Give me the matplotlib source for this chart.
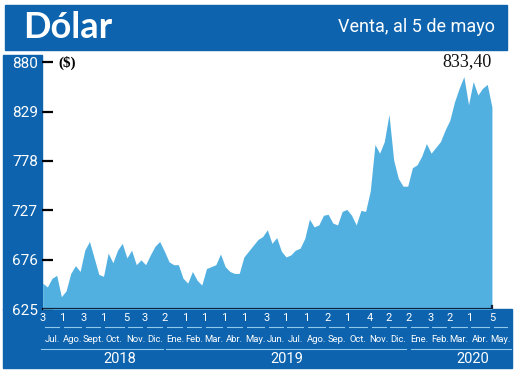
import numpy as np
import matplotlib
matplotlib.use("Agg")
import matplotlib.pyplot as plt
from matplotlib.patches import Rectangle

# weekly readings (Tuesdays) of the dollar sell price, CLP
values = [652, 648, 657, 660, 638, 644, 662, 670, 664, 686,
          695, 678, 661, 659, 683, 673, 686, 693, 678, 686,
          671, 676, 671, 681, 690, 695, 685, 674, 671, 671,
          657, 652, 664, 655, 650, 667, 669, 671, 682, 669,
          664, 662, 662, 679, 685, 691, 697, 700, 707, 693,
          699, 685, 679, 681, 686, 688, 698, 718, 710, 712,
          722, 723, 714, 712, 726, 728, 722, 712, 727, 726,
          747, 795, 786, 798, 826, 779, 760, 752, 752, 771,
          774, 783, 796, 786, 792, 798, 810, 820, 839, 853,
          865, 836, 860, 846, 853, 857, 833.4]
dates = np.arange('2018-07-03', '2020-05-06', 7, dtype='datetime64[D]')

yticks = [625, 676, 727, 778, 829, 880]

tick_dates = ['2018-07-03', '2018-08-01', '2018-09-03', '2018-10-01', '2018-11-05',
              '2018-12-03', '2019-01-02', '2019-02-01', '2019-03-01', '2019-04-01',
              '2019-05-01', '2019-06-03', '2019-07-01', '2019-08-01', '2019-09-02',
              '2019-10-01', '2019-11-04', '2019-12-02', '2020-01-02', '2020-02-03',
              '2020-03-02', '2020-04-01', '2020-05-05', '2020-06-01']
day_labels = ['3', '1', '3', '1', '5', '3', '2', '1', '1', '1', '1', '3',
              '1', '1', '2', '1', '4', '2', '2', '3', '2', '1', '5']
month_labels = ['Jul.', 'Ago.', 'Sept.', 'Oct.', 'Nov.', 'Dic.',
                'Ene.', 'Feb.', 'Mar.', 'Abr.', 'May.', 'Jun.', 'Jul.', 'Ago.', 'Sep.',
                'Oct.', 'Nov.', 'Dic.', 'Ene.', 'Feb.', 'Mar.', 'Abr.', 'May.']
years = ['2018', '2019', '2020']
year_spans = [('2018-07-01', '2018-12-30'), ('2019-01-04', '2019-12-28'), ('2020-01-05', '2020-06-03')]
year_label_pos = ['2018-10-26', '2019-07-03', '2020-04-07']

BLUE = '#0d63ad'
FILL = '#52b0e1'
LINE = '#8fc9ee'
NARROW = ['Roboto', 'DejaVu Sans']

W, H = 520, 390
fig = plt.figure(figsize=(5.2, 3.9), dpi=100)


def box(x0, y0, x1, y1, color):
    fig.patches.append(Rectangle((x0 / W, 1 - y1 / H), (x1 - x0) / W, (y1 - y0) / H,
                                 transform=fig.transFigure, color=color, zorder=-5))


box(5, 5, 507, 50, BLUE)      # header
box(3, 55, 42, 310, BLUE)     # left strip
box(3, 309, 512, 368, BLUE)   # bottom band

fig.text(23 / W, 1 - 28 / H, 'Dólar', color='white', fontsize=26, fontweight='bold',
         family='Lato', va='center', ha='left')
fig.text(495 / W, 1 - 27 / H, 'Venta, al 5 de mayo', color='white', fontsize=13,
         family=NARROW, va='center', ha='right')

ax_bottom, ax_top = 309.3, 55
ax = fig.add_axes([42 / W, 1 - ax_bottom / H, (512 - 42) / W, (ax_bottom - ax_top) / H])
ax.set_facecolor('none')

ax.fill_between(dates, values, 625, color=FILL, lw=0, zorder=2)
ax.plot([dates[0], dates[-1]], [625, 625], color='#10213a', lw=1.6, zorder=3, solid_capstyle='butt')
ax.plot([dates[-1], dates[-1]], [625, 628], color='#10213a', lw=1.6, zorder=3)

ax.set_ylim(625, 887.3)
ax.set_xlim(np.datetime64('2018-07-02'), np.datetime64('2020-06-04'))
ax.set_yticks(yticks)
ax.set_yticklabels([str(v) for v in yticks], color='white', fontsize=11, family=NARROW)
ax.tick_params(axis='y', direction='in', length=8, width=1.6, color='black', pad=3)
ax.set_xticks([])
for s in ax.spines.values():
    s.set_visible(False)

ax.text(np.datetime64('2018-08-08'), 879, '($)', fontsize=11, fontweight='bold',
        family='Liberation Serif', va='center', ha='center', color='black')
ax.text(np.datetime64('2020-03-28'), 880, '833,40', fontsize=13,
        family='Liberation Serif', va='center', ha='center', color='#111111')

# bottom band labels, y given in image pixels
trans = ax.get_xaxis_transform()


def fy(py):
    return (ax_bottom - py) / (ax_bottom - ax_top)


td = [np.datetime64(d) for d in tick_dates]
day = np.timedelta64(1, 'D')
for i, lab in enumerate(day_labels):
    ax.text(td[i], fy(318), lab, transform=trans, color='white', fontsize=8,
            family=NARROW, ha='center', va='center', clip_on=False)
    ax.plot([td[i] + 3 * day, td[i + 1] - 4 * day], [fy(327), fy(327)], transform=trans,
            color=LINE, lw=0.8, clip_on=False)
    mid = td[i] + (td[i + 1] - td[i]) / 2
    ax.text(mid, fy(340), month_labels[i], transform=trans, color='white', fontsize=6.8,
            family=NARROW, ha='center', va='center', clip_on=False)

for i, y in enumerate(years):
    a, b = year_spans[i]
    ax.plot([np.datetime64(a), np.datetime64(b)], [fy(349), fy(349)], transform=trans,
            color=LINE, lw=0.8, clip_on=False)
    ax.text(np.datetime64(year_label_pos[i]), fy(359), y, transform=trans, color='white',
            fontsize=10.5, family=NARROW, ha='center', va='center', clip_on=False)

fig.savefig('out.png', dpi=100)
